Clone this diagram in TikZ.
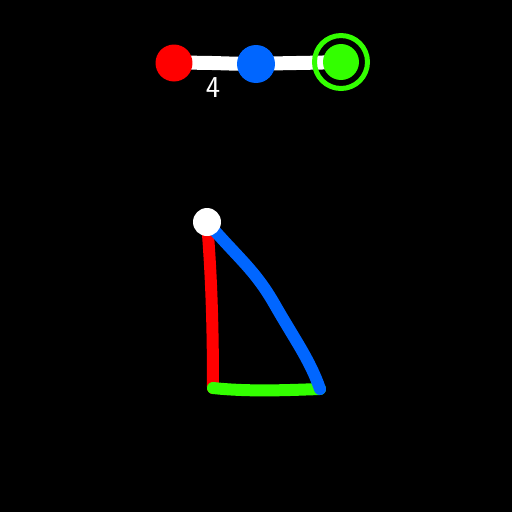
\documentclass[tikz,border=0pt]{standalone}
\usepackage{tikz}
\definecolor{myblue}{RGB}{0,102,255}
\definecolor{mygreen}{RGB}{51,255,0}

\begin{document}
\begin{tikzpicture}[x=0.02cm,y=-0.02cm,
dot/.style={circle,inner sep=0pt,minimum size=#1*0.04cm},
stroke/.style={line width=0.24cm,line cap=round}]
\fill[black] (0,0) rectangle (512,512);
\useasboundingbox (0,0) rectangle (512,512);

\coordinate (rc) at (174,63);
\coordinate (bc) at (256,64);
\coordinate (gc) at (341,62);
\draw[white,line width=0.28cm] (rc) .. controls (205,62) and (230,64) .. (bc) .. controls (280,63) and (310,63) .. (gc);
\node[dot=18.5,fill=red] at (rc)	(r) {};
\node[dot=19,fill=myblue] at (bc)	(b) {};
\node[dot=18,fill=mygreen] at (gc)	(g) {};
\node[circle,draw=mygreen,line width=0.1cm,minimum size=1.06cm,inner sep=0pt] at (gc)	(gring) {};
\node[white,font=\sffamily\LARGE] at (213,88)	(w) {4};

\coordinate (tc) at (207,222);
\coordinate (bl) at (213,388);
\coordinate (br) at (320,389);

\draw[stroke,red] (tc) .. controls (211,270) and (213,320) .. (bl);
\draw[stroke,mygreen] (bl) .. controls (250,392) and (290,390) .. (br);
\draw[stroke,myblue] (tc) .. controls (240,260) and (255,270) .. (275,305) .. controls (295,340) and (310,360) .. (br);
\node[dot=14,fill=white] at (tc)	(top) {};
\end{tikzpicture}
\end{document}
